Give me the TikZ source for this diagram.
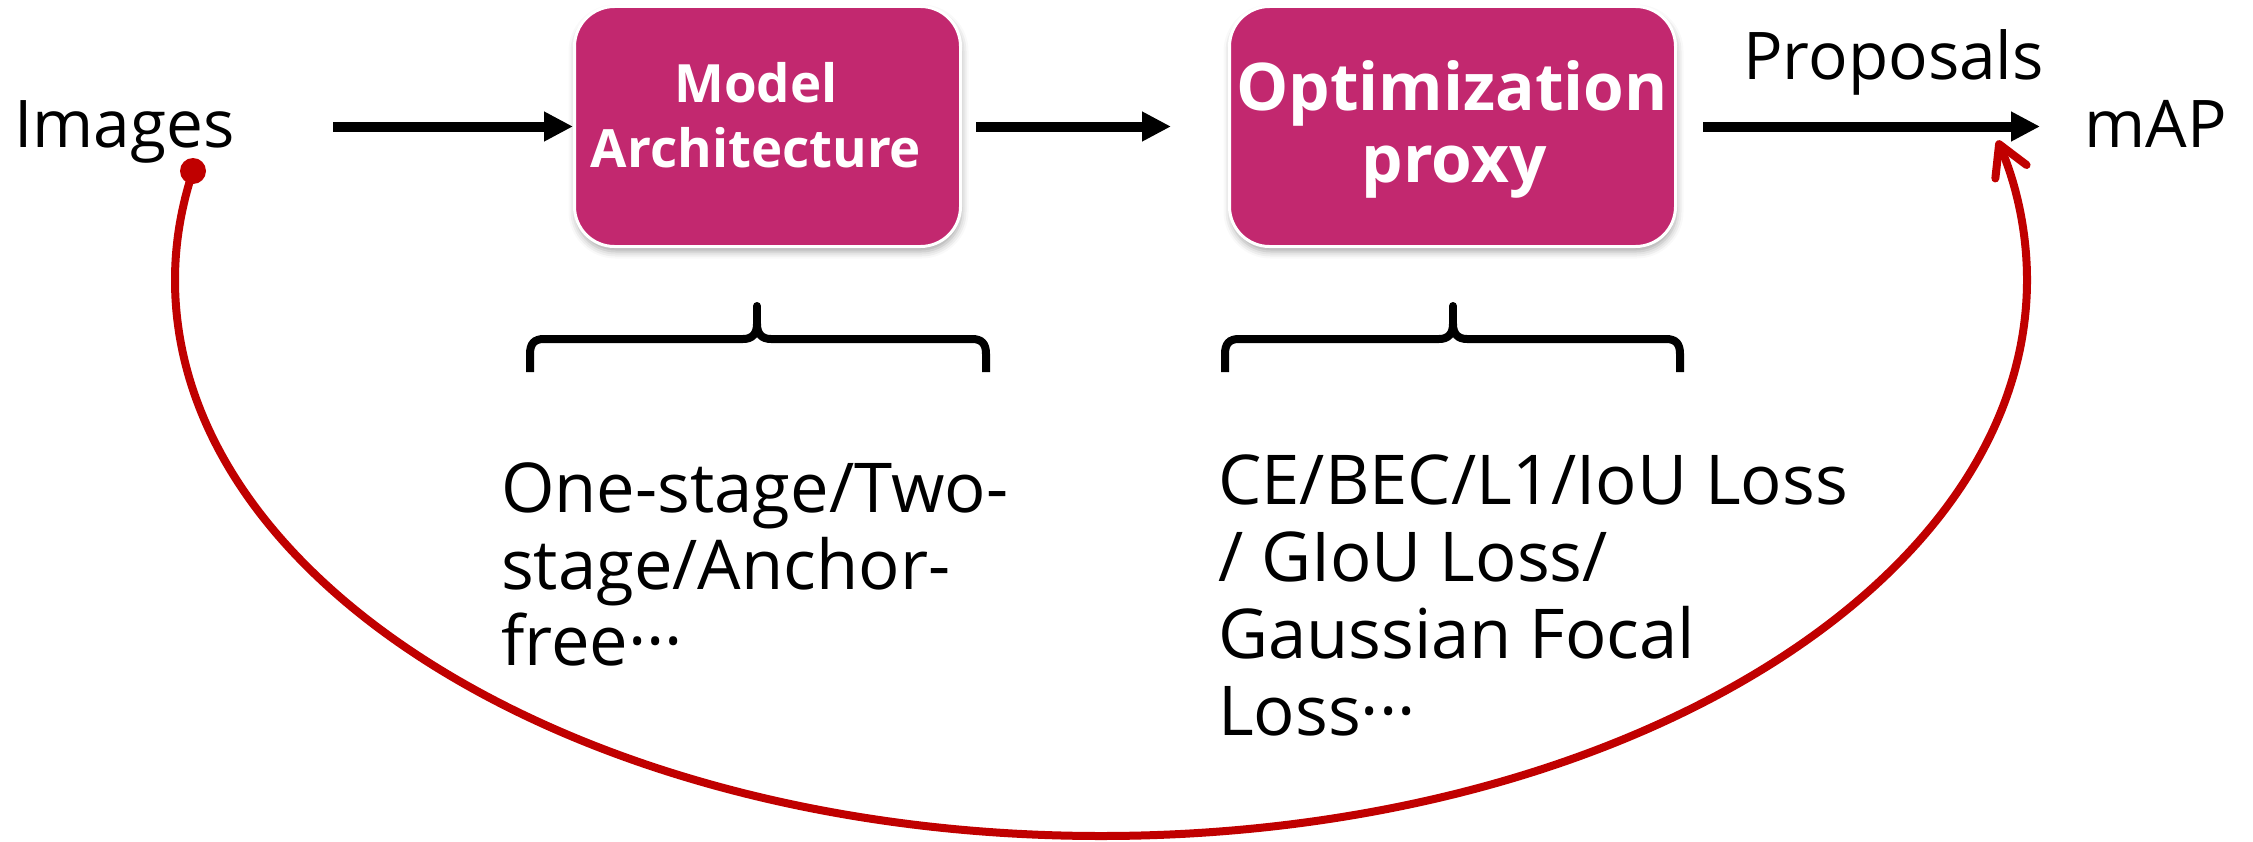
\documentclass[tikz,border=0pt]{standalone}
\usepackage{fontspec}
\setmainfont{Open Sans}
\usetikzlibrary{arrows.meta,shadows.blur}

\definecolor{boxfill}{HTML}{C2286F}
\definecolor{feedred}{HTML}{C00000}

% one brace: left end, right end, tip position
\newcommand{\drawbrace}[3]{%
  \draw[bracestroke] (#1,372) -- (#1,354)
    .. controls (#1,344) and (#1+4,339) .. (#1+14,339) -- (#3-14,339)
    .. controls (#3-5,339) and (#3,334) .. (#3,324);
  \draw[bracestroke] (#3,324)
    .. controls (#3,334) and (#3+5,339) .. (#3+14,339) -- (#2-14,339)
    .. controls (#2-4,339) and (#2,344) .. (#2,354) -- (#2,372);
  \draw[bracestroke, line cap=round] (#3,328) -- (#3,306);
}

\begin{document}
\begin{tikzpicture}[x=1bp, y=-1bp,
  stagebox/.style={draw=white, line width=3bp, fill=boxfill, rounded corners=40bp,
    inner sep=0, blur shadow={shadow xshift=1bp, shadow yshift=-5bp,
    shadow blur radius=7bp, shadow opacity=35}},
  boxlbl/.style={text=white, anchor=base, inner sep=0, font=\bfseries},
  plain/.style={anchor=base west, inner sep=0, font=\fontsize{66}{77}\selectfont},
  note/.style={anchor=base west, inner sep=0, font=\fontsize{69}{77}\selectfont},
  flow/.style={line width=10bp, -{Triangle[length=29bp,width=28bp]}},
  bracestroke/.style={line width=8bp},
  feedback/.style={draw=feedred, line width=8bp, line cap=round,
    -{Straight Barb[length=30bp,width=34bp,round]}}]

\useasboundingbox (0,0) rectangle (2253,841);

% pipeline stages
\node[stagebox, minimum width=386bp, minimum height=240bp] (model) at (767.5,126.5) {};
\node[stagebox, minimum width=446bp, minimum height=240bp] (proxy) at (1452.5,126.5) {};

\node[boxlbl, font=\fontsize{53}{60}\selectfont\bfseries] (mdl) at (756,102) {Model};
\node[boxlbl, font=\fontsize{53}{60}\selectfont\bfseries] (arch) at (756,167) {Architecture};
\node[boxlbl, font=\fontsize{66}{72}\selectfont\bfseries] (opt) at (1452,110) {Optimization};
\node[boxlbl, font=\fontsize{66}{72}\selectfont\bfseries] (prx) at (1454,182) {proxy};

% inputs and outputs
\node[plain] (images) at (14,147) {Images};
\node[plain] (map) at (2084,147) {mAP};
\node[plain] (props) at (1743,79) {Proposals};

% main flow
\coordinate (start) at (333,126.5);
\draw[flow] (start) -- (model.west);
\draw[flow, shorten <=14bp, shorten >=57bp] (model.east) -- (proxy.west);
\draw[flow, shorten <=26bp, shorten >=44bp] (proxy.east) -- (proxy.east -| map.west);

% braces under the stages
\drawbrace{530}{986}{757}
\drawbrace{1225}{1680}{1453}

% descriptions
\node[note] (l1) at (501,512) {One-stage/Two-};
\node[note] (l2) at (501,589) {stage/Anchor-};
\node[note] (l3) at (501,665) {free···};

\node[note] (r1) at (1218,504) {CE/BEC/L1/IoU Loss};
\node[note] (r2) at (1218,581) {/ GIoU Loss/};
\node[note] (r3) at (1218,658) {Gaussian Focal};
\node[note] (r4) at (1218,735) {Loss···};

% feedback loop from images to mAP
\node[circle, fill=feedred, minimum size=26bp, inner sep=0] (dot) at (193,171) {};
\coordinate (lp) at (175,280);
\coordinate (bp) at (1101,836);
\coordinate (rp) at (2027,280);
\coordinate (tipc) at (1997.5,140.5);
\draw[feedback] (dot.center)
  .. controls (181.1,206.9) and (175,243.4) .. (lp)
  .. controls (175,587.6) and (589.6,836) .. (bp)
  .. controls (1612.4,836) and (2027,587.6) .. (rp)
  .. controls (2027,233) and (2017.1,186) .. (tipc);

\end{tikzpicture}
\end{document}
